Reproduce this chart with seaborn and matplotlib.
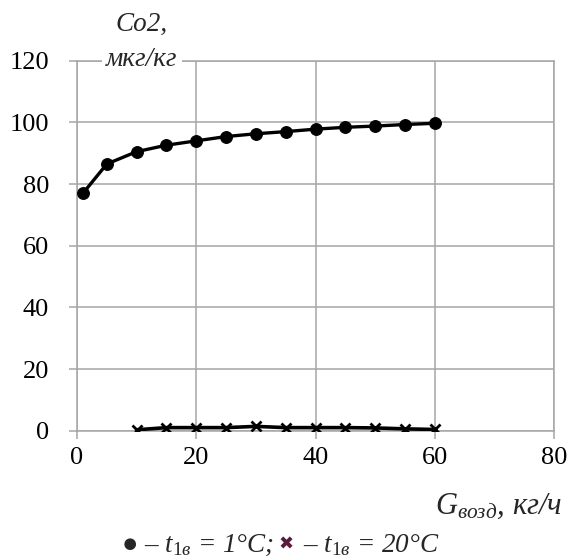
import matplotlib
matplotlib.use("Agg")
import matplotlib.pyplot as plt
import seaborn as sns
import pandas as pd

# Data
x1 = [1, 5, 10, 15, 20, 25, 30, 35, 40, 45, 50, 55, 60]
y1 = [77.0, 86.5, 90.5, 92.6, 94.0, 95.4, 96.3, 97.0, 97.8, 98.4, 98.8, 99.3, 99.7]
x2 = [10, 15, 20, 25, 30, 35, 40, 45, 50, 55, 60]
y2 = [0.3, 1.0, 1.0, 1.0, 1.4, 1.0, 1.0, 1.0, 0.9, 0.6, 0.4]
xticks = [0, 20, 40, 60, 80]
yticks = [0, 20, 40, 60, 80, 100, 120]

sns.set_theme(style="white")
plt.rcParams['font.family'] = ['Liberation Serif', 'DejaVu Serif', 'DejaVu Sans']
plt.rcParams['mathtext.fontset'] = 'custom'
plt.rcParams['mathtext.rm'] = 'Liberation Serif'
plt.rcParams['mathtext.it'] = 'Liberation Serif:italic'

fig = plt.figure(figsize=(5.70, 5.57), dpi=100)
W, H = 570, 557
ax = fig.add_axes([77 / W, 1 - 430.7 / H, (554 - 77) / W, (430.7 - 60.7) / H])

d1 = pd.DataFrame({"x": x1, "y": y1})
d2 = pd.DataFrame({"x": x2, "y": y2})
sns.lineplot(data=d1, x="x", y="y", ax=ax, color="black", linewidth=2.4,
             marker="o", markersize=8.5, markeredgecolor="black", zorder=5)
sns.lineplot(data=d2, x="x", y="y", ax=ax, color="black", linewidth=2.6,
             marker="x", markersize=7, markeredgewidth=2, markeredgecolor="black", zorder=5)

ax.set_xlim(0, 80)
ax.set_ylim(0, 120)
ax.set_xticks(xticks)
ax.set_yticks(yticks)
ax.grid(True, color="#a6a6a6", linewidth=1.1)
ax.set_axisbelow(True)
for s in ax.spines.values():
    s.set_color("#a6a6a6")
    s.set_linewidth(1.1)
ax.tick_params(axis="both", which="both", direction="out", length=6, width=1.1,
               color="#a6a6a6", labelsize=19, labelcolor="black")
ax.tick_params(axis="y", left=True, pad=14)
ax.tick_params(axis="x", bottom=True, pad=6)
ax.set_xlabel("")
ax.set_ylabel("")
for lab in ax.get_xticklabels() + ax.get_yticklabels():
    lab.set_fontfamily('Liberation Serif')

# Axis titles
fig.text(142 / W, 1 - 24 / H, "Co2,", ha="center", va="center", fontsize=19.5,
         style="italic", family="Liberation Serif")
fig.text(142 / W, 1 - 60 / H, "мкг/кг", ha="center", va="center", fontsize=19.5,
         style="italic", family="Liberation Serif",
         bbox=dict(facecolor="white", edgecolor="none", pad=3))
fig.text(499 / W, 1 - 506 / H, r"$G_{возд}$, кг/ч", ha="center", va="center",
         fontsize=22, style="italic", family="Liberation Serif")

# Legend line (pieces)
fig.text(121 / W, 1 - 545 / H, r"● – $t_{\mathit{1в}}$ = 1°C;", ha="left", va="center",
         fontsize=19.5, style="italic", family="Liberation Serif")
fig.text(286 / W, 1 - 545 / H, "✖", ha="center", va="center",
         fontsize=13, color="#5a1a3a", family="DejaVu Sans")
fig.text(303 / W, 1 - 545 / H, r"– $t_{\mathit{1в}}$ = 20°C", ha="left", va="center",
         fontsize=19.5, style="italic", family="Liberation Serif")

fig.savefig("out.png", dpi=100)
